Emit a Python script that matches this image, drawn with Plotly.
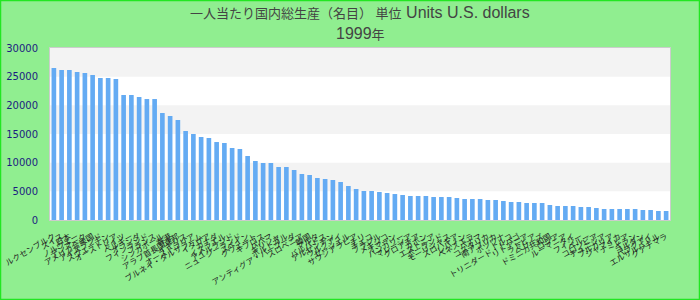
import plotly.graph_objects as go

title_cjk = "一人当たり国内総生産（名目） 単位"
title_latin = "Units U.S. dollars"
title_line2_num = "1999"
title_line2_cjk = "年"

countries = [
    "ルクセンブルク", "スイス", "日本", "ノルウェー", "デンマーク", "アメリカ合衆国", "アイスランド", "スウェーデン",
    "オーストリア", "ドイツ", "ベルギー", "オランダ", "フィンランド", "フランス", "シンガポール", "香港",
    "アラブ首長国連邦", "イギリス", "オーストラリア", "ブルネイ・ダルサラーム", "イタリア", "カナダ", "イスラエル", "アイルランド",
    "ニュージーランド", "スペイン", "クウェート", "キプロス", "バハマ", "ギリシャ", "ポルトガル", "アンティグア・バーブーダ",
    "スロベニア", "韓国", "マルタ", "バルバドス", "アルゼンチン", "ウルグアイ", "セーシェル", "サウジアラビア",
    "チリ", "チェコ", "ブラジル", "メキシコ", "オマーン", "ハンガリー", "マレーシア", "クロアチア",
    "ガボン", "エストニア", "ポーランド", "モーリシャス", "スロバキア", "レバノン", "ベネズエラ", "パナマ",
    "コスタリカ", "南アフリカ", "ボツワナ", "トルコ", "トリニダード・トバゴ", "リトアニア", "ラトビア", "ベリーズ",
    "ドミニカ共和国", "ロシア", "ルーマニア", "タイ", "フィジー", "ペルー", "コロンビア", "チュニジア",
    "ブルガリア", "ジャマイカ", "ナミビア", "イラン", "ヨルダン", "パラグアイ", "エルサルバドル", "グアテマラ",
]

values = [
    26510, 26160, 26160, 25810, 25640, 25290, 24770, 24770,
    24590, 21800, 21800, 21450, 21100, 21100, 18660, 18140,
    17440, 15520, 15000, 14480, 14300, 13600, 13430, 12560,
    12380, 11160, 10290, 9940, 9940, 9240, 9240, 8720,
    8020, 7850, 7330, 7150, 6980, 6630, 5930, 5410,
    5060, 5060, 4880, 4710, 4530, 4360, 4190, 4190,
    4190, 4010, 4010, 4010, 3840, 3660, 3660, 3660,
    3490, 3490, 3310, 3140, 3140, 2970, 2970, 2970,
    2620, 2440, 2440, 2440, 2270, 2270, 2090, 1920,
    1920, 1920, 1920, 1920, 1740, 1740, 1570, 1570,
]

y_ticks = [0, 5000, 10000, 15000, 20000, 25000, 30000]
band_starts = [5000, 15000, 25000]
band_height = 5000

fig = go.Figure(go.Bar(x=countries, y=values, marker=dict(color="#64abf3", line=dict(width=0))))

W, H = 700, 300
ml, mr, mt, mb = 50, 30, 48, 80
pw, ph = W - ml - mr, H - mt - mb

shapes = []
for b in band_starts:
    shapes.append(dict(type="rect", xref="paper", yref="y", x0=0, x1=1, y0=b, y1=b + band_height,
                       fillcolor="#f3f3f3", line=dict(width=0), layer="below"))
# outer page border
shapes.append(dict(type="rect", xref="paper", yref="paper",
                   x0=-ml / pw + 0.5 / pw, x1=1 + (mr - 0.5) / pw,
                   y0=-mb / ph + 0.5 / ph, y1=1 + (mt - 0.5) / ph,
                   line=dict(color="#22e622", width=1.5), fillcolor="rgba(0,0,0,0)", layer="above"))

title_font = dict(family="Liberation Sans, Noto Sans CJK JP", size=16, color="#444444")
annotations = [
    dict(text='<span style="font-size:13px">' + title_cjk + "</span> " + title_latin,
         xref="paper", yref="paper", x=0.5, y=1 + (mt - 12) / ph, xanchor="center", yanchor="middle",
         showarrow=False, font=title_font),
    dict(text=title_line2_num + '<span style="font-size:13px">' + title_line2_cjk + "</span>",
         xref="paper", yref="paper", x=0.5, y=1 + (mt - 33) / ph, xanchor="center", yanchor="middle",
         showarrow=False, font=title_font),
]

fig.update_layout(
    width=W, height=H,
    margin=dict(l=ml, r=mr, t=mt, b=mb, autoexpand=False),
    paper_bgcolor="#90ee90",
    plot_bgcolor="#ffffff",
    bargap=0.4,
    showlegend=False,
    shapes=shapes,
    annotations=annotations,
    xaxis=dict(type="category", tickmode="array", tickvals=countries, ticktext=countries,
               tickangle=-30, tickfont=dict(family="Noto Sans CJK JP", size=8, color="#222222"),
               showline=True, linecolor="#cccccc", linewidth=1, mirror=True,
               showgrid=False, ticks="", ticklabelstandoff=8, automargin=False),
    yaxis=dict(range=[0, 30000], tickmode="array", tickvals=y_ticks, ticktext=[str(t) for t in y_ticks],
               tickfont=dict(family="DejaVu Sans", size=10, color="#1c1c80"),
               showline=True, linecolor="#cccccc", linewidth=1, mirror=True,
               showgrid=False, zeroline=False, ticks="", ticklabelstandoff=9, automargin=False),
)

fig.write_html("out.html")
